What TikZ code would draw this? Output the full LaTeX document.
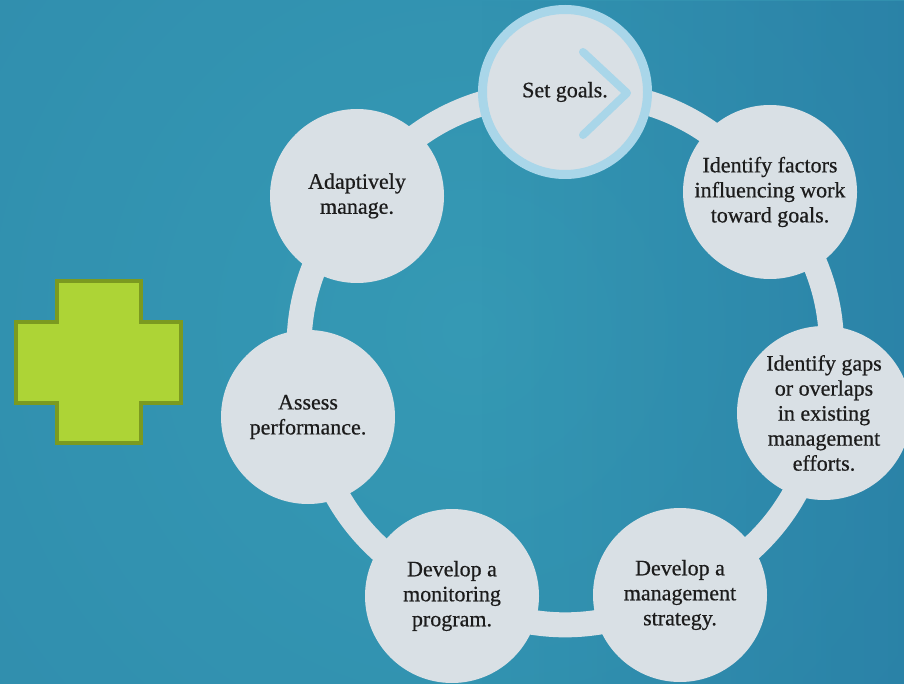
\documentclass[tikz,border=0pt]{standalone}
\usepackage{fontspec}
\setmainfont{Liberation Serif}
\newfontfamily\stagefont[FakeBold=0.6]{Liberation Serif}
\usetikzlibrary{calc,fadings}
\definecolor{bgin}{HTML}{3599B4}
\definecolor{bgout}{HTML}{2B82A7}
\definecolor{bgdeep}{HTML}{1F6A9A}
\definecolor{disc}{HTML}{D9E0E5}
\definecolor{halo}{HTML}{A9D6E9}
\definecolor{crossfill}{HTML}{ADD436}
\definecolor{crossedge}{HTML}{7B9A20}
\definecolor{ink}{HTML}{1C1C1C}
\pgfdeclareradialshading{backglow}{\pgfpoint{0bp}{0bp}}{color(0bp)=(bgin); color(50bp)=(bgout)}
\pgfdeclarelayer{back}
\pgfdeclarelayer{links}
\pgfsetlayers{back,links,main}
\begin{document}
\begin{tikzpicture}[x=1pt,y=-1pt,
  stage/.style={circle, fill=disc, minimum size=174pt, inner sep=0pt, align=center, text=ink, font=\stagefont\fontsize{22}{25}\selectfont},
  startstage/.style={stage, draw=halo, line width=9pt, minimum size=165pt},
  link/.style={draw=disc, line width=25pt, bend left=26},
  chev/.style={draw=halo, line width=8pt, line cap=round, line join=round},
  plus/.style={fill=crossfill, draw=crossedge, line width=4pt}]
\useasboundingbox (0,0) rectangle (904,684);
\begin{pgfonlayer}{back}
  \begin{scope}
    \clip (0,0) rectangle (904,684);
    \fill[bgout] (0,0) rectangle (904,684);
    \shade[shading=backglow] (470,330) circle (650);
    \fill[bgdeep, fill opacity=0.35, path fading=west] (480,0) rectangle (904,684);
  \end{scope}
\end{pgfonlayer}

\node[startstage] (sg) at (565,92) {Set goals.};
\node[stage] (fa) at (770,192) {Identify factors\\influencing work\\toward goals.};
\node[stage] (gp) at (824,413) {Identify gaps\\or overlaps\\in existing\\management\\efforts.};
\node[stage] (ms) at (680,595) {Develop a\\management\\strategy.};
\node[stage] (mp) at (452,596) {Develop a\\monitoring\\program.};
\node[stage] (ap) at (308,417) {Assess\\performance.};
\node[stage] (am) at (357,196) {Adaptively\\manage.};

\draw[chev] ($(sg.center)+(18,-40)$) -- ($(sg.center)+(62,1)$) -- ($(sg.center)+(18,43)$);

\begin{pgfonlayer}{links}
  \path[link] (sg.center) to (fa.center);
  \path[link] (fa.center) to (gp.center);
  \path[link] (gp.center) to (ms.center);
  \path[link] (ms.center) to (mp.center);
  \path[link] (mp.center) to (ap.center);
  \path[link] (ap.center) to (am.center);
  \path[link] (am.center) to (sg.center);
\end{pgfonlayer}

\draw[plus] (57,281) -- (141,281) -- (141,322) -- (181,322) -- (181,403) -- (141,403) -- (141,443) -- (57,443) -- (57,403) -- (16,403) -- (16,322) -- (57,322) -- cycle;
\end{tikzpicture}
\end{document}
